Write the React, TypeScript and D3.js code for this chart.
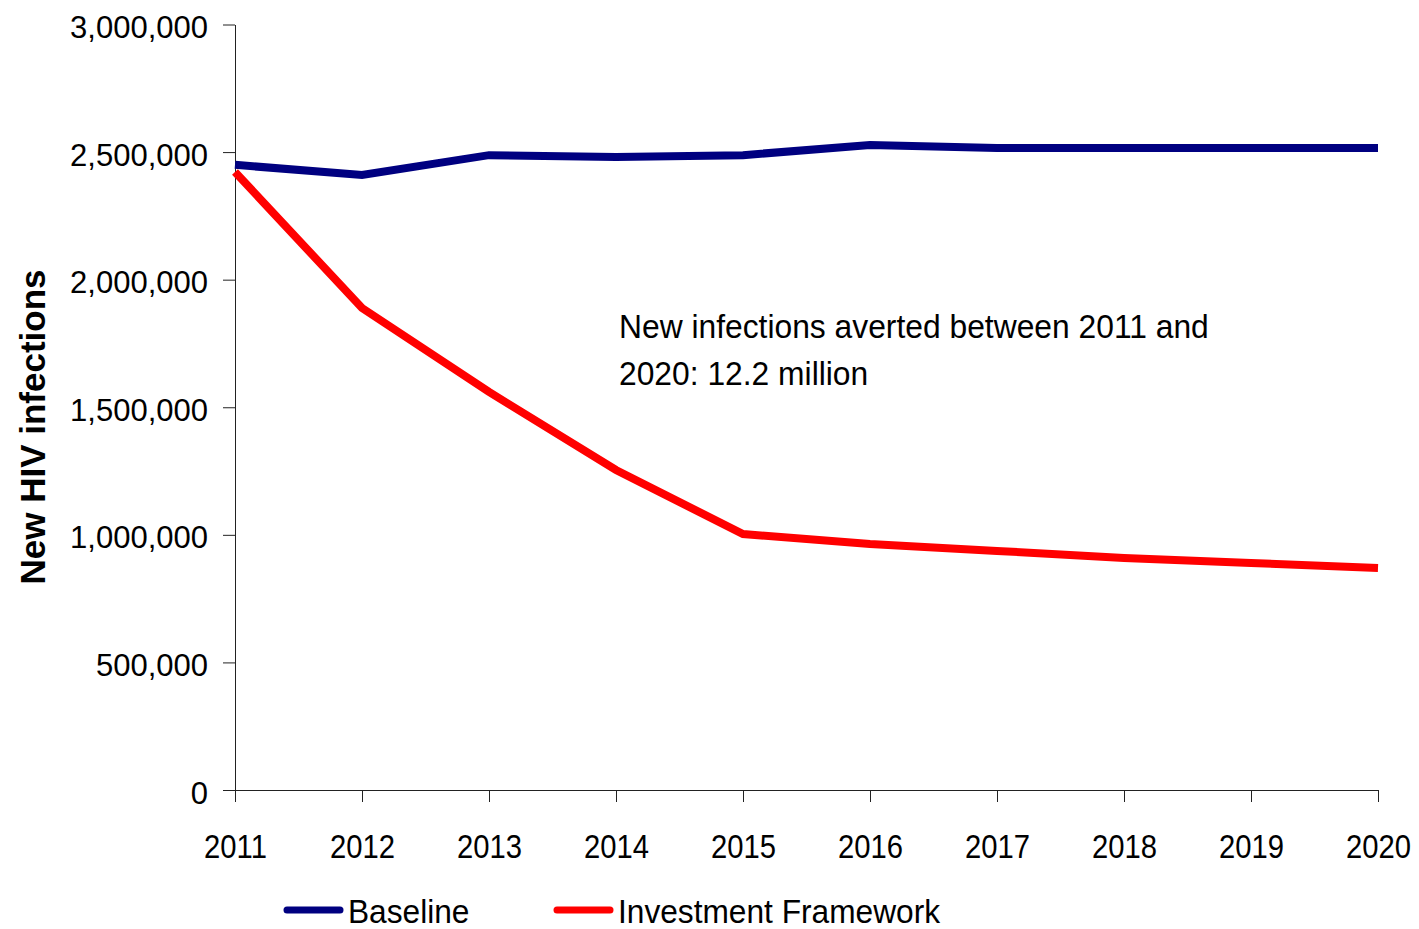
import { useEffect, useRef } from 'react';
import { scaleLinear, select, axisBottom, axisLeft, line, format } from 'd3';

const years = [2011, 2012, 2013, 2014, 2015, 2016, 2017, 2018, 2019, 2020];
const baseline = [2450000, 2410000, 2488000, 2481000, 2488000, 2528000, 2516000, 2516000, 2516000, 2516000];
const investment = [2422000, 1889000, 1560000, 1254000, 1003000, 964000, 937000, 909000, 890000, 870000];
const yTicks = [0, 500000, 1000000, 1500000, 2000000, 2500000, 3000000];

const seriesNames = ['Baseline', 'Investment Framework'];
const seriesColors = ['#000080', '#ff0000'];
const annotation = ['New infections averted between 2011 and', '2020: 12.2 million'];
const yTitle = 'New HIV infections';

const FONT = '"Liberation Sans", Arial, sans-serif';

export default function App() {
  const svgRef = useRef<SVGSVGElement>(null);

  useEffect(() => {
    if (!svgRef.current) return;
    const svg = select(svgRef.current);
    svg.selectAll('*').remove();

    const width = 1419;
    const height = 929;
    svg.attr('width', width).attr('height', height);

    // Scales
    const x = scaleLinear().domain([2011, 2020]).range([235, 1378]);
    const y = scaleLinear().domain([0, 3000000]).range([790, 24.5]);

    // Y axis
    const yAxis = axisLeft(y)
      .tickValues(yTicks)
      .tickSize(12)
      .tickSizeOuter(0)
      .tickPadding(15)
      .tickFormat((d) => format(',')(d as number));

    const gy = svg.append('g').attr('transform', 'translate(235,0)').call(yAxis);
    gy.select('.domain').attr('stroke', '#222');
    gy.selectAll('.tick line').attr('stroke', '#222');
    gy.selectAll('.tick text')
      .attr('font-family', FONT)
      .attr('font-size', 31)
      .attr('fill', '#000')
      .attr('dy', '0.42em');

    // X axis
    const xAxis = axisBottom(x)
      .tickValues(years)
      .tickSize(12)
      .tickSizeOuter(0)
      .tickFormat((d) => String(d));

    const gx = svg.append('g').attr('transform', 'translate(0,790)').call(xAxis);
    gx.select('.domain').attr('stroke', '#222');
    gx.selectAll('.tick line').attr('stroke', '#222');
    gx.selectAll('.tick text')
      .attr('font-family', FONT)
      .attr('font-size', 34)
      .attr('fill', '#000')
      .attr('y', 0)
      .attr('dy', 0)
      .attr('transform', 'translate(0,68) scale(0.86,1)');

    // Lines
    const lineGen = line<number>()
      .x((_, i) => x(years[i]))
      .y((d) => y(d));

    [baseline, investment].forEach((values, i) => {
      svg.append('path')
        .datum(values)
        .attr('d', lineGen)
        .attr('fill', 'none')
        .attr('stroke', seriesColors[i])
        .attr('stroke-width', 8)
        .attr('stroke-linejoin', 'miter');
    });

    // Annotation
    annotation.forEach((t, i) => {
      svg.append('text')
        .attr('transform', `translate(619,${338 + i * 47}) scale(1,1.04)`)
        .attr('font-family', FONT)
        .attr('font-size', 31.8)
        .attr('fill', '#000')
        .text(t);
    });

    // Y title
    svg.append('text')
      .attr('transform', 'translate(45,427) rotate(-90)')
      .attr('text-anchor', 'middle')
      .attr('font-family', FONT)
      .attr('font-size', 35)
      .attr('font-weight', 'bold')
      .attr('fill', '#000')
      .text(yTitle);

    // Legend
    const legendX = [284, 554];
    seriesNames.forEach((name, i) => {
      const lx = legendX[i];
      svg.append('line')
        .attr('x1', lx + 3)
        .attr('x2', lx + 56)
        .attr('y1', 910)
        .attr('y2', 910)
        .attr('stroke', seriesColors[i])
        .attr('stroke-width', 7)
        .attr('stroke-linecap', 'round');
      svg.append('text')
        .attr('transform', `translate(${lx + 64},923) scale(0.96,1.02)`)
        .attr('font-family', FONT)
        .attr('font-size', 33)
        .attr('fill', '#000')
        .text(name);
    });
  }, []);

  return (
    <div style={{ position: 'absolute', left: 0, top: 0, background: '#fff' }}>
      <svg ref={svgRef} style={{ display: 'block' }} />
    </div>
  );
}
